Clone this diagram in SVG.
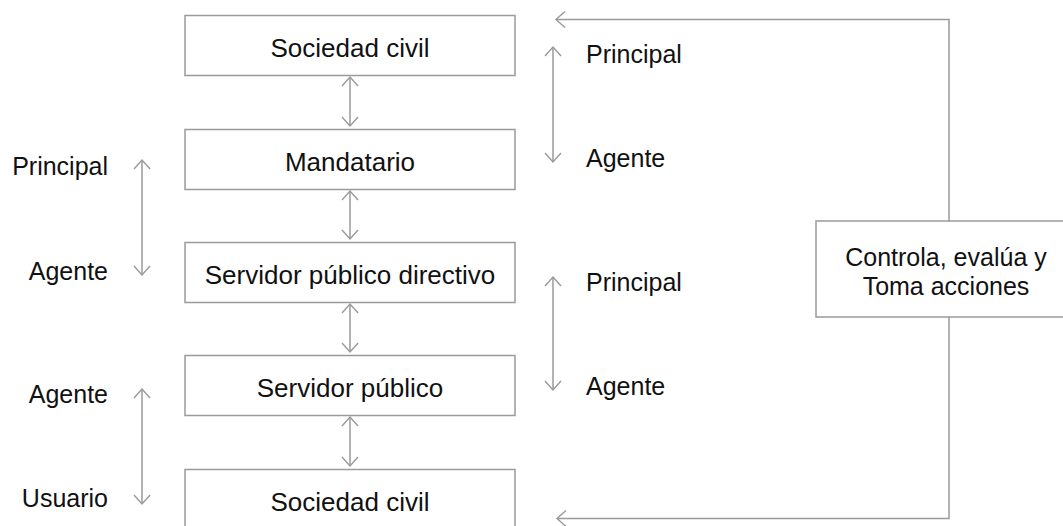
<svg xmlns="http://www.w3.org/2000/svg" width="1063" height="526" viewBox="0 0 1063 526">
<defs>
<marker id="ah" markerUnits="userSpaceOnUse" markerWidth="24" markerHeight="24" viewBox="-12 -12 24 24" refX="0" refY="0" orient="auto-start-reverse">
<path d="M-9,-8 L0,0 L-9,8" fill="none" stroke="#999" stroke-width="1.4"/>
</marker>
<style>
.box{fill:#fff;stroke:#9a9a9a;stroke-width:1.5}
.t{font-family:"Liberation Sans",Arial,sans-serif;font-size:26px;fill:#111}
.s{font-size:25px}
.c{text-anchor:middle}
.e{text-anchor:end}
.ln{fill:none;stroke:#9a9a9a;stroke-width:1.5}
.a2{marker-start:url(#ah);marker-end:url(#ah)}
.a1{marker-end:url(#ah)}
</style>
</defs>
<rect width="1063" height="526" fill="#fff"/>
<g id="connectors">
<line class="ln a2" x1="350" y1="77" x2="350" y2="126"/>
<line class="ln a2" x1="350" y1="191" x2="350" y2="239"/>
<line class="ln a2" x1="350" y1="304" x2="350" y2="352"/>
<line class="ln a2" x1="350" y1="417" x2="350" y2="466"/>
<line class="ln a2" x1="553" y1="47" x2="553" y2="162"/>
<line class="ln a2" x1="553" y1="277" x2="553" y2="390"/>
<line class="ln a2" x1="142" y1="160" x2="142" y2="275"/>
<line class="ln a2" x1="142" y1="389" x2="142" y2="504"/>
<polyline class="ln a1" points="949,221 949,19.5 556,19.5"/>
<polyline class="ln a1" points="949,317 949,518.5 557,518.5"/>
</g>
<g id="n1"><rect class="box" x="185" y="15.5" width="330" height="60"/><text class="t c" x="350" y="57">Sociedad civil</text></g>
<g id="n2"><rect class="box" x="185" y="129.5" width="330" height="60"/><text class="t c" x="350" y="171">Mandatario</text></g>
<g id="n3"><rect class="box" x="185" y="242.5" width="330" height="60"/><text class="t c" x="350" y="284">Servidor público directivo</text></g>
<g id="n4"><rect class="box" x="185" y="355.5" width="330" height="60"/><text class="t c" x="350" y="397">Servidor público</text></g>
<g id="n5"><rect class="box" x="185" y="469.5" width="330" height="60"/><text class="t c" x="350" y="511">Sociedad civil</text></g>
<g id="n6"><rect class="box" x="816" y="221" width="260" height="96"/><text class="t s c" x="946" y="266">Controla, evalúa y</text><text class="t s c" x="946" y="295">Toma acciones</text></g>
<g id="labels">
<text class="t s" x="586" y="63">Principal</text>
<text class="t s" x="586" y="167">Agente</text>
<text class="t s" x="586" y="291">Principal</text>
<text class="t s" x="586" y="395">Agente</text>
<text class="t s e" x="108" y="175">Principal</text>
<text class="t s e" x="108" y="280">Agente</text>
<text class="t s e" x="108" y="403">Agente</text>
<text class="t s e" x="108" y="507">Usuario</text>
</g>
</svg>
